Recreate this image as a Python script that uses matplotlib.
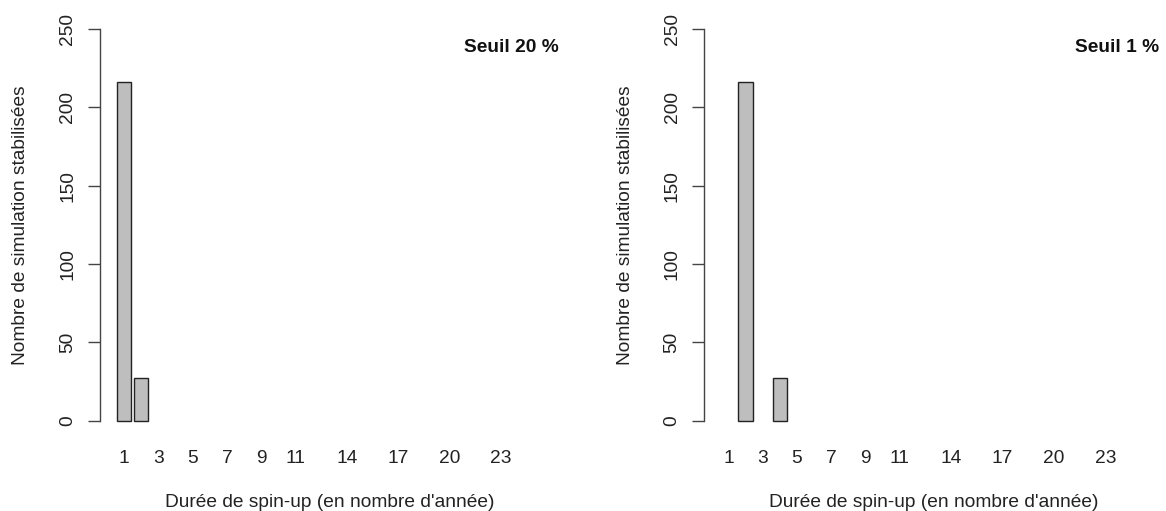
import numpy as np
import matplotlib.pyplot as plt

plt.rcParams['font.family'] = ['Liberation Sans', 'DejaVu Sans']

DURATIONS  = list(range(1, 26))
COUNTS_20  = [216, 27, 0, 0, 0, 0, 0, 0, 0, 0, 0, 0, 0, 0, 0, 0, 0, 0, 0, 0, 0, 0, 0, 0, 0]
COUNTS_1   = [0, 216, 0, 27, 0, 0, 0, 0, 0, 0, 0, 0, 0, 0, 0, 0, 0, 0, 0, 0, 0, 0, 0, 0, 0]
SHOWN      = [1, 3, 5, 7, 9, 11, 14, 17, 20, 23]
PANELS     = [('Seuil 20 %', COUNTS_20), ('Seuil 1 %', COUNTS_1)]
YTICKS     = [0, 50, 100, 150, 200, 250]

W, H = 1166, 511
FS = 13.8
fig = plt.figure(figsize=(W / 100, H / 100), dpi=100)

# R barplot layout: width 1, space 0.2
x = 0.7 + 1.2 * np.arange(len(DURATIONS))
xlim = (-0.992, 31.192)

lefts = [100, 704.3]
legend_right = [559, 1159]
ax_w = 459.5
ax_top, ax_bot = 13.3, 436.4

for left, lr, (title, counts) in zip(lefts, legend_right, PANELS):
    ax = fig.add_axes([left / W, 1 - ax_bot / H, ax_w / W, (ax_bot - ax_top) / H])
    counts = np.array(counts)
    lw = np.where(counts > 0, 1.0, 0.0)
    ax.bar(x, counts, width=1.0, color='#bebebe', edgecolor='#222222', linewidth=lw)
    ax.set_xlim(*xlim)
    ax.set_ylim(-10, 260)

    for s in ['top', 'right', 'bottom']:
        ax.spines[s].set_visible(False)
    ax.spines['left'].set_bounds(0, 250)
    ax.spines['left'].set_color('#444444')
    ax.spines['left'].set_linewidth(1.0)

    ax.set_yticks(YTICKS)
    ax.set_yticklabels([str(v) for v in YTICKS], rotation=90, va='center')
    ax.tick_params(axis='y', length=8.5, width=1.0, color='#444444', pad=8.5,
                   labelsize=FS, labelcolor='#222222')

    ax.set_xticks([x[DURATIONS.index(d)] for d in SHOWN])
    ax.set_xticklabels([str(d) for d in SHOWN])
    ax.tick_params(axis='x', length=0, pad=10, labelsize=FS, labelcolor='#222222')

    ax.set_ylabel('Nombre de simulation stabilisées', fontsize=FS, color='#222222')
    ax.yaxis.set_label_coords(-79 / ax_w, 0.5)
    ax.yaxis.label.set_va('center')
    ax.set_xlabel("Durée de spin-up (en nombre d'année)", fontsize=FS, color='#222222')
    ax.xaxis.set_label_coords(0.5, -(502 - ax_bot) / (ax_bot - ax_top))
    ax.xaxis.label.set_va('center')

    ax.text((lr - left) / ax_w, (ax_bot - 48) / (ax_bot - ax_top), title,
            transform=ax.transAxes, ha='right', va='center', fontsize=FS,
            fontweight='bold', color='#111111')

plt.savefig('out.png', dpi=100)
